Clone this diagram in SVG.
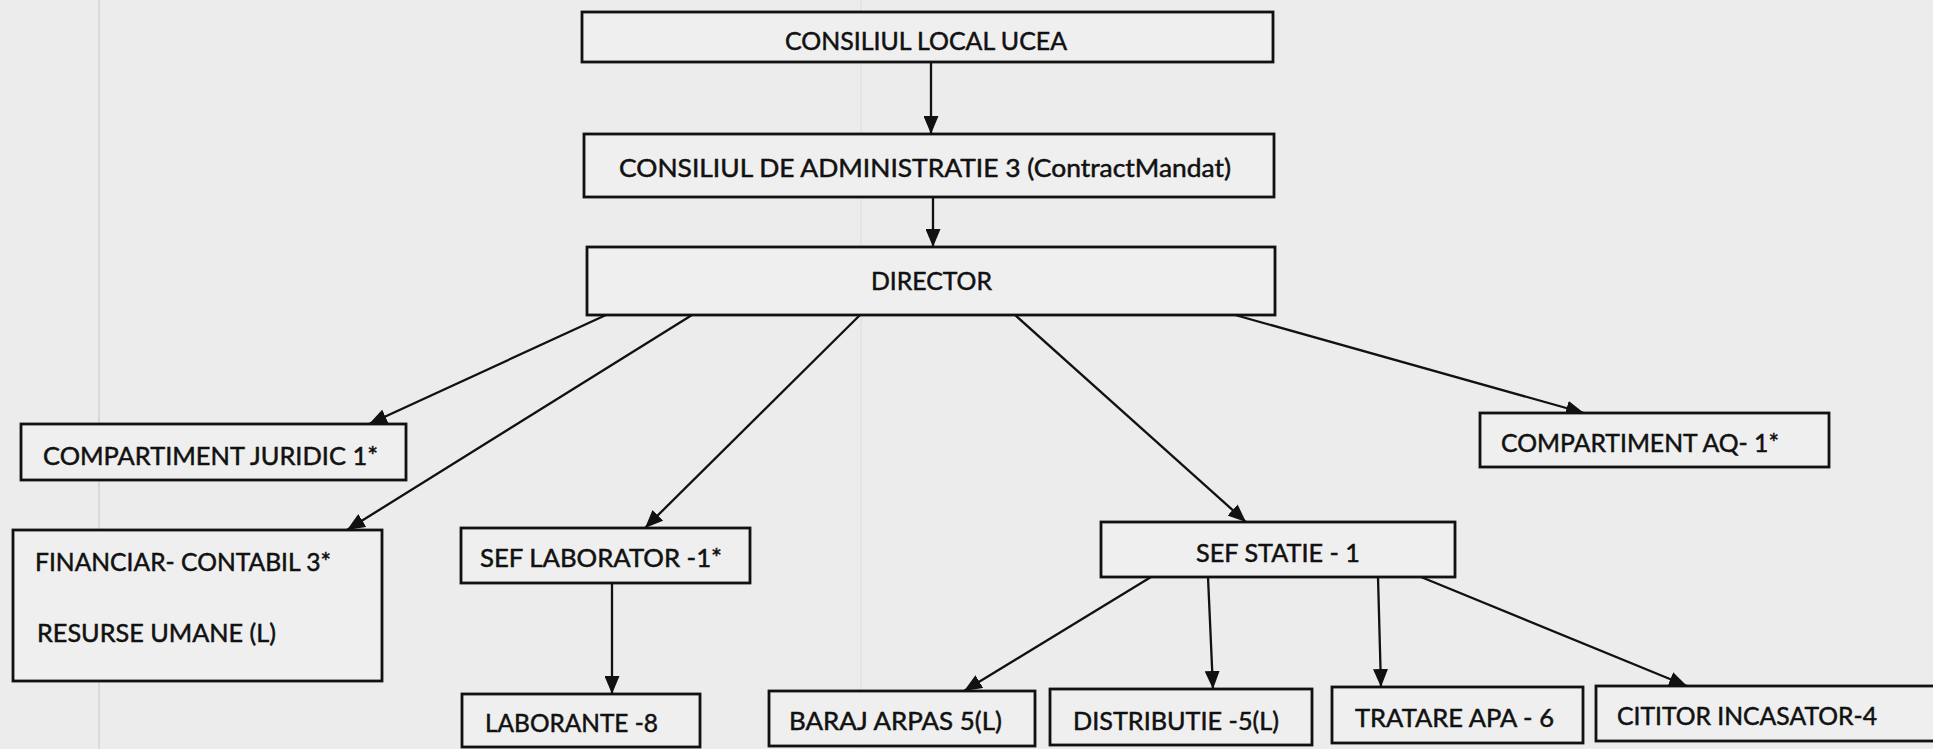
<svg xmlns="http://www.w3.org/2000/svg" width="1933" height="749" viewBox="0 0 1933 749">
<style>
.bg{fill:#ececec}
.box{fill:#efefef;stroke:#111;stroke-width:2.8}
.t{font-family:Lato,"Open Sans","Liberation Sans",sans-serif;font-size:25px;fill:#111;stroke:#111;stroke-width:0.5}
.c{stroke:#111;stroke-width:2.3;fill:none;marker-end:url(#ah)}
.scan{stroke:#c8c8c8;stroke-width:1}
</style>
<defs>
<marker id="ah" markerUnits="userSpaceOnUse" markerWidth="18" markerHeight="15" refX="18" refY="7.5" orient="auto">
<path d="M0,0 L18,7.5 L0,15 Z" fill="#111"/>
</marker>
</defs>
<rect class="bg" x="0" y="0" width="1933" height="749"/>
<g id="scan-lines">
<line class="scan" x1="99" y1="0" x2="99" y2="749"/>
<line class="scan" x1="861" y1="0" x2="861" y2="749" opacity="0.4"/>
</g>
<g id="connectors">
<line class="c" x1="931" y1="62" x2="931" y2="134"/>
<line class="c" x1="933" y1="197" x2="933" y2="247"/>
<line class="c" x1="606" y1="315" x2="369" y2="424"/>
<line class="c" x1="692" y1="315" x2="347" y2="530"/>
<line class="c" x1="860" y1="315" x2="645" y2="528"/>
<line class="c" x1="1015" y1="315" x2="1246" y2="522"/>
<line class="c" x1="1228" y1="313" x2="1584" y2="413"/>
<line class="c" x1="612" y1="583" x2="612" y2="694"/>
<line class="c" x1="1151" y1="577" x2="964" y2="691"/>
<line class="c" x1="1208" y1="577" x2="1213" y2="689"/>
<line class="c" x1="1378" y1="577" x2="1381" y2="687"/>
<line class="c" x1="1421" y1="577" x2="1687" y2="686"/>
</g>
<g id="n-consiliul-local">
<rect class="box" x="582" y="12" width="691" height="50"/>
<text class="t" x="785" y="50" textLength="282" lengthAdjust="spacingAndGlyphs">CONSILIUL LOCAL UCEA</text>
</g>
<g id="n-consiliul-admin">
<rect class="box" x="584" y="134" width="690" height="63"/>
<text class="t" x="619" y="177" textLength="612" lengthAdjust="spacingAndGlyphs">CONSILIUL DE ADMINISTRATIE 3 (ContractMandat)</text>
</g>
<g id="n-director">
<rect class="box" x="587" y="247" width="688" height="68"/>
<text class="t" x="871" y="290" textLength="121" lengthAdjust="spacingAndGlyphs">DIRECTOR</text>
</g>
<g id="n-juridic">
<rect class="box" x="21" y="424" width="385" height="56"/>
<text class="t" x="43" y="465" textLength="335" lengthAdjust="spacingAndGlyphs">COMPARTIMENT JURIDIC 1*</text>
</g>
<g id="n-financiar">
<rect class="box" x="13" y="530" width="369" height="151"/>
<text class="t" x="35" y="571" textLength="296" lengthAdjust="spacingAndGlyphs">FINANCIAR- CONTABIL 3*</text>
<text class="t" x="37" y="642" textLength="239" lengthAdjust="spacingAndGlyphs">RESURSE UMANE (L)</text>
</g>
<g id="n-sef-laborator">
<rect class="box" x="461" y="528" width="289" height="55"/>
<text class="t" x="480" y="567" textLength="242" lengthAdjust="spacingAndGlyphs">SEF LABORATOR -1*</text>
</g>
<g id="n-laborante">
<rect class="box" x="462" y="694" width="238" height="53"/>
<text class="t" x="485" y="732" textLength="173" lengthAdjust="spacingAndGlyphs">LABORANTE -8</text>
</g>
<g id="n-aq">
<rect class="box" x="1480" y="413" width="349" height="54"/>
<text class="t" x="1501" y="452" textLength="278" lengthAdjust="spacingAndGlyphs">COMPARTIMENT AQ- 1*</text>
</g>
<g id="n-sef-statie">
<rect class="box" x="1101" y="522" width="354" height="55"/>
<text class="t" x="1196" y="562" textLength="164" lengthAdjust="spacingAndGlyphs">SEF STATIE - 1</text>
</g>
<g id="n-baraj">
<rect class="box" x="769" y="691" width="266" height="55"/>
<text class="t" x="789" y="730" textLength="213" lengthAdjust="spacingAndGlyphs">BARAJ ARPAS 5(L)</text>
</g>
<g id="n-distributie">
<rect class="box" x="1050" y="689" width="262" height="56"/>
<text class="t" x="1073" y="730" textLength="206" lengthAdjust="spacingAndGlyphs">DISTRIBUTIE -5(L)</text>
</g>
<g id="n-tratare">
<rect class="box" x="1332" y="687" width="251" height="56"/>
<text class="t" x="1355" y="727" textLength="199" lengthAdjust="spacingAndGlyphs">TRATARE APA - 6</text>
</g>
<g id="n-cititor">
<rect class="box" x="1596" y="686" width="345" height="55"/>
<text class="t" x="1617" y="725" textLength="260" lengthAdjust="spacingAndGlyphs">CITITOR INCASATOR-4</text>
</g>
</svg>
